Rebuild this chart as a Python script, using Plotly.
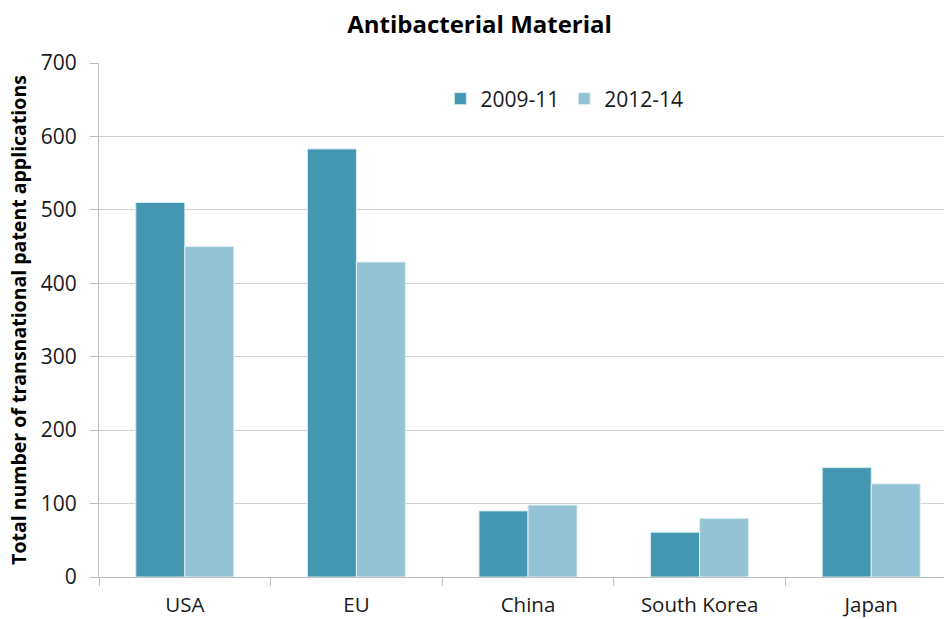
import plotly.graph_objects as go

regions = ["USA", "EU", "China", "South Korea", "Japan"]
apps_2009_11 = [510, 583, 90, 61, 149]
apps_2012_14 = [450, 429, 98, 80, 127]
y_ticks = [0, 100, 200, 300, 400, 500, 600, 700]

font_family = "'Open Sans', sans-serif"
dark = "#4397B0"
light = "#93C3D4"

fig = go.Figure()
fig.add_trace(go.Bar(name="2009-11", x=regions, y=apps_2009_11,
                     marker=dict(color=dark, line=dict(color="#D5EAF0", width=1))))
fig.add_trace(go.Bar(name="2012-14", x=regions, y=apps_2012_14,
                     marker=dict(color=light, line=dict(color="#E4F1F5", width=1))))

fig.update_layout(
    width=944, height=619,
    margin=dict(l=99, r=0, t=63, b=42),
    paper_bgcolor="white", plot_bgcolor="white",
    barmode="group", bargap=0.4286, bargroupgap=0,
    font=dict(family=font_family, color="#1a1a1a"),
    title=dict(text="<b>Antibacterial Material</b>", x=0.508, xanchor="center",
               y=0.96, yanchor="middle", font=dict(size=24, color="#000000")),
    legend=dict(orientation="h", x=0.404, y=0.93, xanchor="left", yanchor="middle",
                font=dict(size=21), bgcolor="rgba(0,0,0,0)", itemwidth=30,
                traceorder="normal"),
    xaxis=dict(range=[-0.5, 4.424], showline=True, linecolor="#BEBEBE", linewidth=1,
               ticks="outside", tickson="boundaries", ticklen=8, tickcolor="#BEBEBE",
               tickfont=dict(size=20.5), showgrid=False, ticklabelstandoff=9,
               automargin=False),
    yaxis=dict(range=[0, 700], tickvals=y_ticks, showline=True, linecolor="#BEBEBE",
               linewidth=1, ticks="outside", ticklen=8, tickcolor="#BEBEBE",
               showgrid=True, gridcolor="#D3D3D3", gridwidth=1,
               tickfont=dict(size=21), ticklabelstandoff=9, automargin=False,
               title=dict(text="<b>Total number of transnational patent applications</b>",
                          font=dict(size=19.5, color="#000000"), standoff=8)),
)

fig.write_html("out.html")
